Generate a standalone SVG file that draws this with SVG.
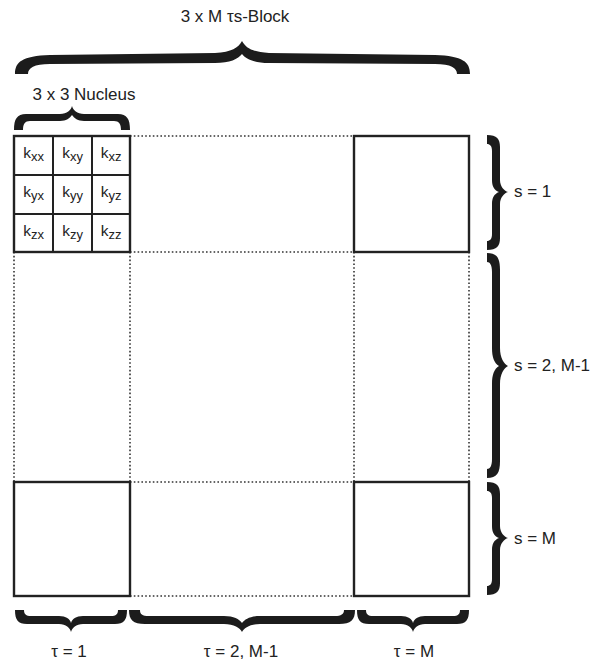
<svg xmlns="http://www.w3.org/2000/svg" width="593" height="664" viewBox="0 0 593 664">
<style>
text{font-family:"Liberation Sans",Arial,sans-serif;fill:#222}
.lbl{font-size:17px}
.k{font-size:15.5px;text-anchor:middle}
.sub{font-size:13px}
.box{fill:none;stroke:#222;stroke-width:2.4}
.cell{fill:none;stroke:#222;stroke-width:2}
.dot{fill:none;stroke:#333;stroke-width:1.6;stroke-dasharray:1.6 2.2}
.brace{fill:#1c1c1c}
</style>
<rect width="593" height="664" fill="#fff"/>
<g id="connectors">
<path class="dot" d="M130,136H354M130,252H354M130,482H354M130,596H354"/>
<path class="dot" d="M14,252V482M130,252V482M354,252V482M469,252V482"/>
</g>
<g id="title">
<text class="lbl" x="235" y="22" text-anchor="middle" font-size="16">3 x M τs-Block</text>
<path class="brace" d="M15,74C15,62 22,56 50,55L215,53C232,52 238,48 242,41C246,48 252,52 269,53L435,55C463,56 470,62 470,74L457,74C457,68 451,64 435,64L269,63C254,63 246,59 242,54C238,59 230,63 215,63L50,64C34,64 28,68 28,74Z"/>
</g>
<g id="nucleus-label">
<text class="lbl" x="84" y="100" text-anchor="middle">3 x 3 Nucleus</text>
<path class="brace" d="M14,130C14,119 17,114 26,114L60,114C67,114 71,110 72,106C73,110 77,114 84,114L118,114C127,114 130,119 130,130L121,130C121,124 119,121 114,121L84,121C78,121 74,118 72,115C70,118 66,121 60,121L30,121C25,121 23,124 23,130Z"/>
</g>
<g id="nucleus">
<rect class="box" x="14" y="136" width="116" height="116"/>
<path class="cell" d="M53,136V252M92,136V252M14,175H130M14,214H130"/>
<text class="k" x="33.5" y="158">k<tspan class="sub" dy="2.5">xx</tspan></text>
<text class="k" x="72.5" y="158">k<tspan class="sub" dy="2.5">xy</tspan></text>
<text class="k" x="111" y="158">k<tspan class="sub" dy="2.5">xz</tspan></text>
<text class="k" x="33.5" y="197">k<tspan class="sub" dy="2.5">yx</tspan></text>
<text class="k" x="72.5" y="197">k<tspan class="sub" dy="2.5">yy</tspan></text>
<text class="k" x="111" y="197">k<tspan class="sub" dy="2.5">yz</tspan></text>
<text class="k" x="33.5" y="236">k<tspan class="sub" dy="2.5">zx</tspan></text>
<text class="k" x="72.5" y="236">k<tspan class="sub" dy="2.5">zy</tspan></text>
<text class="k" x="111" y="236">k<tspan class="sub" dy="2.5">zz</tspan></text>
</g>
<g id="box-1-M"><rect class="box" x="354" y="136" width="115" height="116"/></g>
<g id="box-M-1"><rect class="box" x="14" y="482" width="116" height="114"/></g>
<g id="box-M-M"><rect class="box" x="354" y="482" width="115" height="114"/></g>
<g id="s1">
<path class="brace" d="M487,135C497,135 500,139 500,147L500,180C500,186 504,191 508,192C504,193 500,198 500,204L500,238C500,246 497,250 487,250L487,241C490,241 492,239 492,234L492,204C492,198 494,194 499,192C494,190 492,186 492,180L492,151C492,146 490,144 487,144Z"/>
<text class="lbl" x="514" y="197">s = 1</text>
</g>
<g id="s2">
<path class="brace" d="M487,253C497,253 500,258 500,270L500,348C500,358 504,364 508,366C504,368 500,374 500,384L500,461C500,473 497,478 487,478L487,469C490,469 492,466 492,459L492,384C492,375 494,369 499,366C494,363 492,357 492,348L492,272C492,265 490,262 487,262Z"/>
<text class="lbl" x="514" y="371">s = 2, M-1</text>
</g>
<g id="sM">
<path class="brace" d="M487,482C497,482 500,486 500,494L500,526C500,532 504,537 508,538C504,539 500,544 500,550L500,583C500,591 497,595 487,595L487,586C490,586 492,584 492,579L492,550C492,544 494,540 499,538C494,536 492,532 492,526L492,498C492,493 490,491 487,491Z"/>
<text class="lbl" x="514" y="544">s = M</text>
</g>
<g id="t1">
<path class="brace" d="M15,610C15,620 18,624 27,624L59,624C66,624 70,628 71,632C72,628 76,624 83,624L115,624C124,624 127,620 127,610L118,610C118,614 116,616 111,616L83,616C76,616 72,619 71,623C70,619 66,616 59,616L31,616C26,616 24,614 24,610Z"/>
<text class="lbl" x="69" y="657" text-anchor="middle">τ = 1</text>
</g>
<g id="t2">
<path class="brace" d="M129,610C129,620 133,624 145,624L224,624C234,624 240,628 242,632C244,628 250,624 260,624L339,624C351,624 355,620 355,610L344,610C344,614 341,616 335,616L260,616C250,616 245,619 242,623C239,619 234,616 224,616L149,616C142,616 140,614 140,610Z"/>
<text class="lbl" x="241" y="657" text-anchor="middle">τ = 2, M-1</text>
</g>
<g id="tM">
<path class="brace" d="M357,610C357,620 360,624 369,624L401,624C408,624 412,628 413,632C414,628 418,624 425,624L457,624C466,624 469,620 469,610L460,610C460,614 458,616 453,616L425,616C418,616 414,619 413,623C412,619 408,616 401,616L373,616C368,616 366,614 366,610Z"/>
<text class="lbl" x="414" y="657" text-anchor="middle">τ = M</text>
</g>
</svg>
